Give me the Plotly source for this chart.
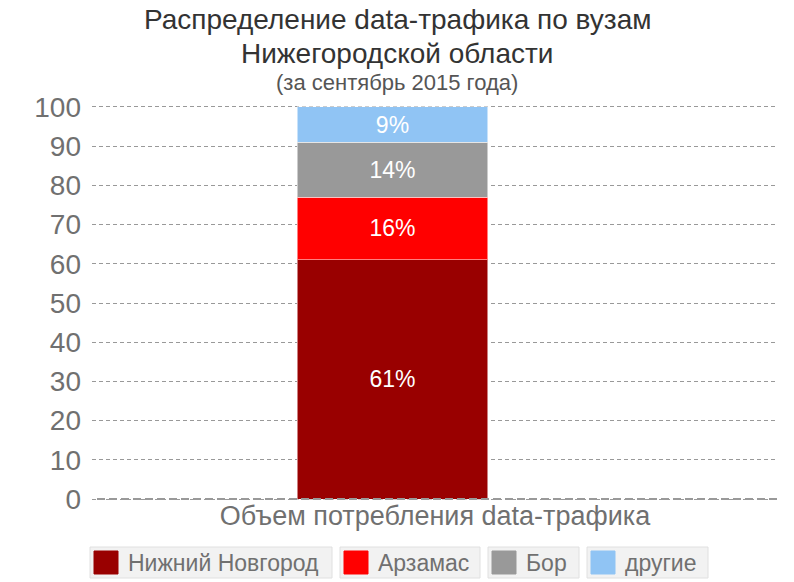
import plotly.graph_objects as go

category = ["Объем потребления data-трафика"]
series_names = ["Нижний Новгород", "Арзамас", "Бор", "другие"]
series_values = [61, 16, 14, 9]
series_colors = ["#990000", "#ff0000", "#999999", "#90c4f4"]
y_ticks = [0, 10, 20, 30, 40, 50, 60, 70, 80, 90, 100]

FONT = "Liberation Sans, Arial, sans-serif"
W, H = 794, 582
ML, MR, MT, MB = 92, 16, 103, 79

fig = go.Figure()
for name, val, col in zip(series_names, series_values, series_colors):
    fig.add_trace(
        go.Bar(
            x=[0],
            y=[val],
            name=name,
            width=0.278,
            marker=dict(color=col, line=dict(color="rgba(255,255,255,0.5)", width=1)),
            text=[f"{val}%"],
            textposition="inside",
            insidetextanchor="middle",
            textfont=dict(color="white", size=23, family=FONT),
            showlegend=False,
        )
    )

pw, ph = W - ML - MR, H - MT - MB


def px(x):
    # page pixel -> paper x
    return (x - ML) / pw


def py(y):
    # page pixel -> paper y
    return 1 - (y - MT) / ph


# dashed baseline at zero
shapes = [
    dict(
        type="line", xref="paper", yref="y", x0=px(97), x1=1, y0=0, y1=0,
        line=dict(color="#999999", width=2, dash="8px,4px"), layer="above",
    )
]

# header
annotations = [
    dict(text="Распределение data-трафика по вузам", x=W / 2, y=19, font=dict(size=28, color="#333333")),
    dict(text="Нижегородской области", x=W / 2, y=53, font=dict(size=28, color="#333333")),
    dict(text="(за сентябрь 2015 года)", x=W / 2, y=82, font=dict(size=22, color="#555555")),
]
for a in annotations:
    a.update(xref="paper", yref="paper", xanchor="center", yanchor="middle", showarrow=False,
             x=px(a["x"]), y=py(a["y"]))
    a["font"]["family"] = FONT

# custom legend: framed items below the plot
legend_boxes = [(90, 332), (340, 480), (488, 579), (587, 708)]
for (x0, x1), name, col in zip(legend_boxes, series_names, series_colors):
    shapes.append(dict(
        type="rect", xref="paper", yref="paper", x0=px(x0), x1=px(x1), y0=py(578), y1=py(547),
        fillcolor="#f2f2f2", line=dict(color="#e0e0e0", width=1),
    ))
    shapes.append(dict(
        type="rect", xref="paper", yref="paper", x0=px(x0 + 4), x1=px(x0 + 28), y0=py(574), y1=py(551),
        fillcolor=col, line=dict(color=col, width=1),
    ))
    annotations.append(dict(
        text=name, xref="paper", yref="paper", x=px(x0 + 36), y=py(563),
        xanchor="left", yanchor="middle", showarrow=False,
        font=dict(size=23, color="#707070", family=FONT),
    ))

fig.update_layout(
    barmode="stack",
    width=W,
    height=H,
    plot_bgcolor="white",
    paper_bgcolor="white",
    font=dict(family=FONT, color="#707070"),
    margin=dict(l=ML, r=MR, t=MT, b=MB),
    showlegend=False,
    xaxis=dict(
        range=[-0.438, 0.562],
        tickvals=[],
        showgrid=False,
        zeroline=False,
        title=dict(text=category[0], font=dict(size=27, color="#707070"), standoff=3),
    ),
    yaxis=dict(
        range=[-1, 101],
        tickvals=y_ticks,
        tickfont=dict(size=28, color="#707070"),
        showgrid=True,
        gridcolor="#999999",
        griddash="4px,3px",
        gridwidth=1,
        zeroline=False,
        ticks="",
        ticklabelstandoff=10,
    ),
    shapes=shapes,
    annotations=annotations,
)

fig.write_html(
    "out.html",
    config={"displayModeBar": False},
    post_script="document.body.style.margin='0';",
)
